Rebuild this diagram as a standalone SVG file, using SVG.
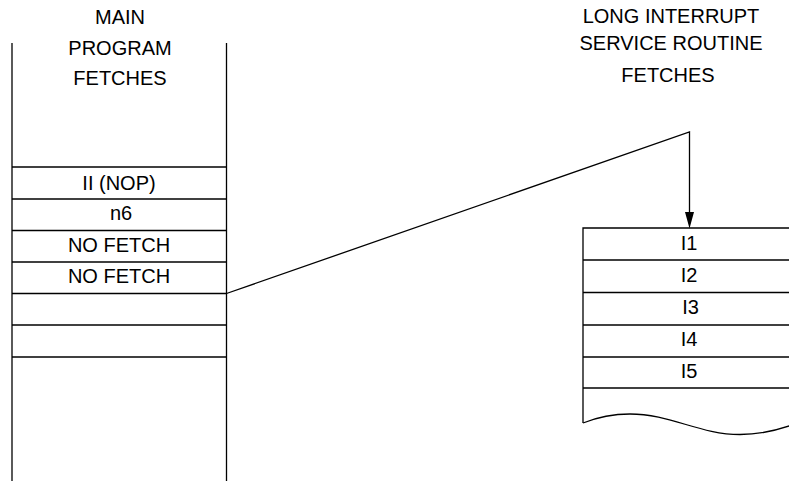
<svg xmlns="http://www.w3.org/2000/svg" width="789" height="481" viewBox="0 0 789 481">
<style>
.ln{stroke:#000;stroke-width:1.3;fill:none}
.t{font-family:"Liberation Sans",Arial,sans-serif;font-size:20px;fill:#000;text-anchor:middle}
</style>
<rect width="789" height="481" fill="#fff"/>
<g id="main-header">
<text class="t" x="120" y="24">MAIN</text>
<text class="t" x="120" y="55">PROGRAM</text>
<text class="t" x="120" y="85">FETCHES</text>
</g>
<g id="isr-header">
<text class="t" x="671" y="23">LONG INTERRUPT</text>
<text class="t" x="671" y="50">SERVICE ROUTINE</text>
<text class="t" x="668" y="82">FETCHES</text>
</g>
<g id="main-column">
<line class="ln" x1="12" y1="43" x2="12" y2="481"/>
<line class="ln" x1="226.5" y1="43" x2="226.5" y2="481"/>
<line class="ln" x1="12" y1="167" x2="226.5" y2="167"/>
<line class="ln" x1="12" y1="199" x2="226.5" y2="199"/>
<line class="ln" x1="12" y1="230.5" x2="226.5" y2="230.5"/>
<line class="ln" x1="12" y1="262" x2="226.5" y2="262"/>
<line class="ln" x1="12" y1="293.5" x2="226.5" y2="293.5"/>
<line class="ln" x1="12" y1="325" x2="226.5" y2="325"/>
<line class="ln" x1="12" y1="357" x2="226.5" y2="357"/>
</g>
<g id="main-rows">
<text class="t" x="119" y="190">II (NOP)</text>
<text class="t" x="121" y="220">n6</text>
<text class="t" x="119" y="252">NO FETCH</text>
<text class="t" x="119" y="283">NO FETCH</text>
</g>
<g id="isr-column">
<polyline class="ln" points="800,228 583,228 583,423"/>
<line class="ln" x1="583" y1="260" x2="800" y2="260"/>
<line class="ln" x1="583" y1="292.5" x2="800" y2="292.5"/>
<line class="ln" x1="583" y1="325" x2="800" y2="325"/>
<line class="ln" x1="583" y1="357" x2="800" y2="357"/>
<line class="ln" x1="583" y1="388" x2="800" y2="388"/>
<path class="ln" d="M583,423 C598,417 614,414 630,414 C670,414 700,434.5 740,434.5 C760,434.5 775,431 792,425"/>
<text class="t" x="689" y="250">I1</text>
<text class="t" x="689" y="282">I2</text>
<text class="t" x="690.5" y="314">I3</text>
<text class="t" x="689" y="346">I4</text>
<text class="t" x="689" y="378">I5</text>
</g>
<g id="connectors">
<polyline class="ln" points="226.5,293.5 689.5,132 689.5,214"/>
<polygon points="689.5,228.5 685,212 694,212" fill="#000"/>
</g>
</svg>
